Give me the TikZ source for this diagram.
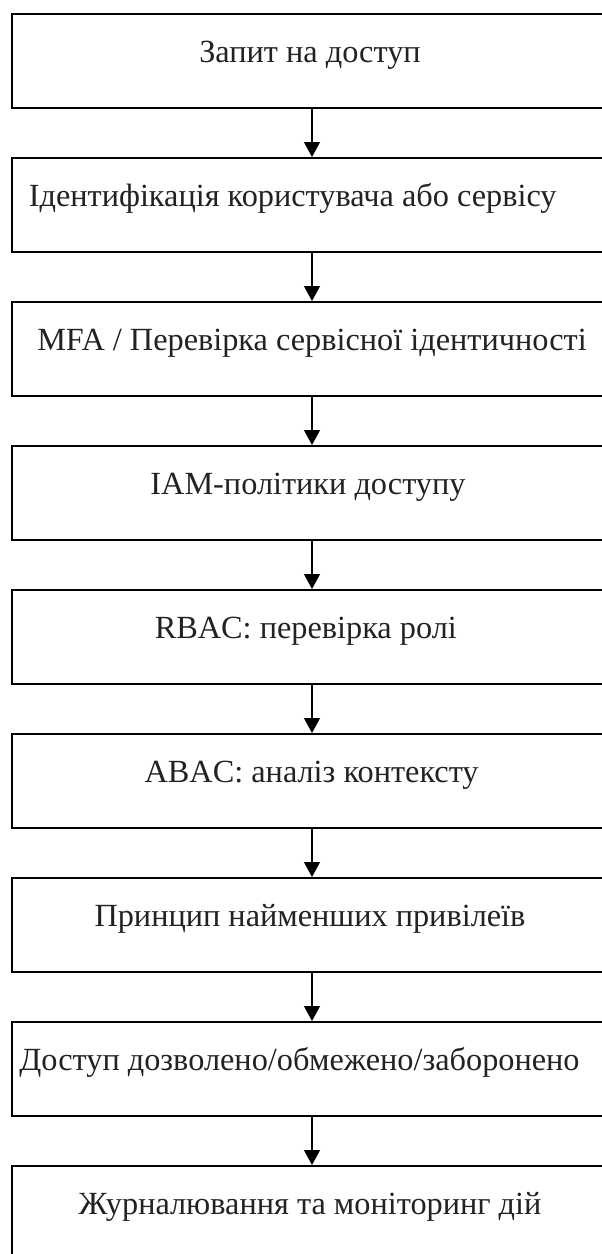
\documentclass[tikz,border=0pt]{standalone}
\usepackage{fontspec}
\setmainfont{Liberation Serif}
\usetikzlibrary{arrows.meta}
\definecolor{txt}{RGB}{34,34,34}
\tikzset{
  x=1pt, y=-1pt,
  box/.style={draw=black, line width=2.2pt, minimum width=602pt, minimum height=94pt, inner sep=0pt, anchor=north west},
  lbl/.style={anchor=base, inner sep=0pt, text=txt, font=\fontsize{32.3}{38}\selectfont},
  arr/.style={line width=1.3pt, -{Triangle[width=16pt,length=15pt]}}
}
\begin{document}
\begin{tikzpicture}
\useasboundingbox (0,0) rectangle (602,1254);
\fill[white] (0,0) rectangle (602,1254);
\coordinate (ax) at (312,0);
\foreach \i/\cx/\t in {
  1/310/{Запит на доступ},
  2/292.7/{Ідентифікація користувача або сервісу},
  3/312/{MFA / Перевірка сервісної ідентичності},
  4/308/{IAM-політики доступу},
  5/305.8/{RBAC: перевірка ролі},
  6/311.6/{ABAC: аналіз контексту},
  7/310/{Принцип найменших привілеїв},
  8/299.5/{Доступ дозволено/обмежено/заборонено},
  9/310/{Журналювання та моніторинг дій}} {
  \pgfmathsetmacro{\top}{13+144*(\i-1)}
  \node[box] (b\i) at (11,\top) {};
  \node[lbl] (t\i) at (\cx,\top+49.5) {\t};
}
\foreach \i [evaluate=\i as \j using int(\i+1)] in {1,...,8} {
  \draw[arr] (b\i.south -| ax) -- (b\j.north -| ax);
}
\end{tikzpicture}
\end{document}
